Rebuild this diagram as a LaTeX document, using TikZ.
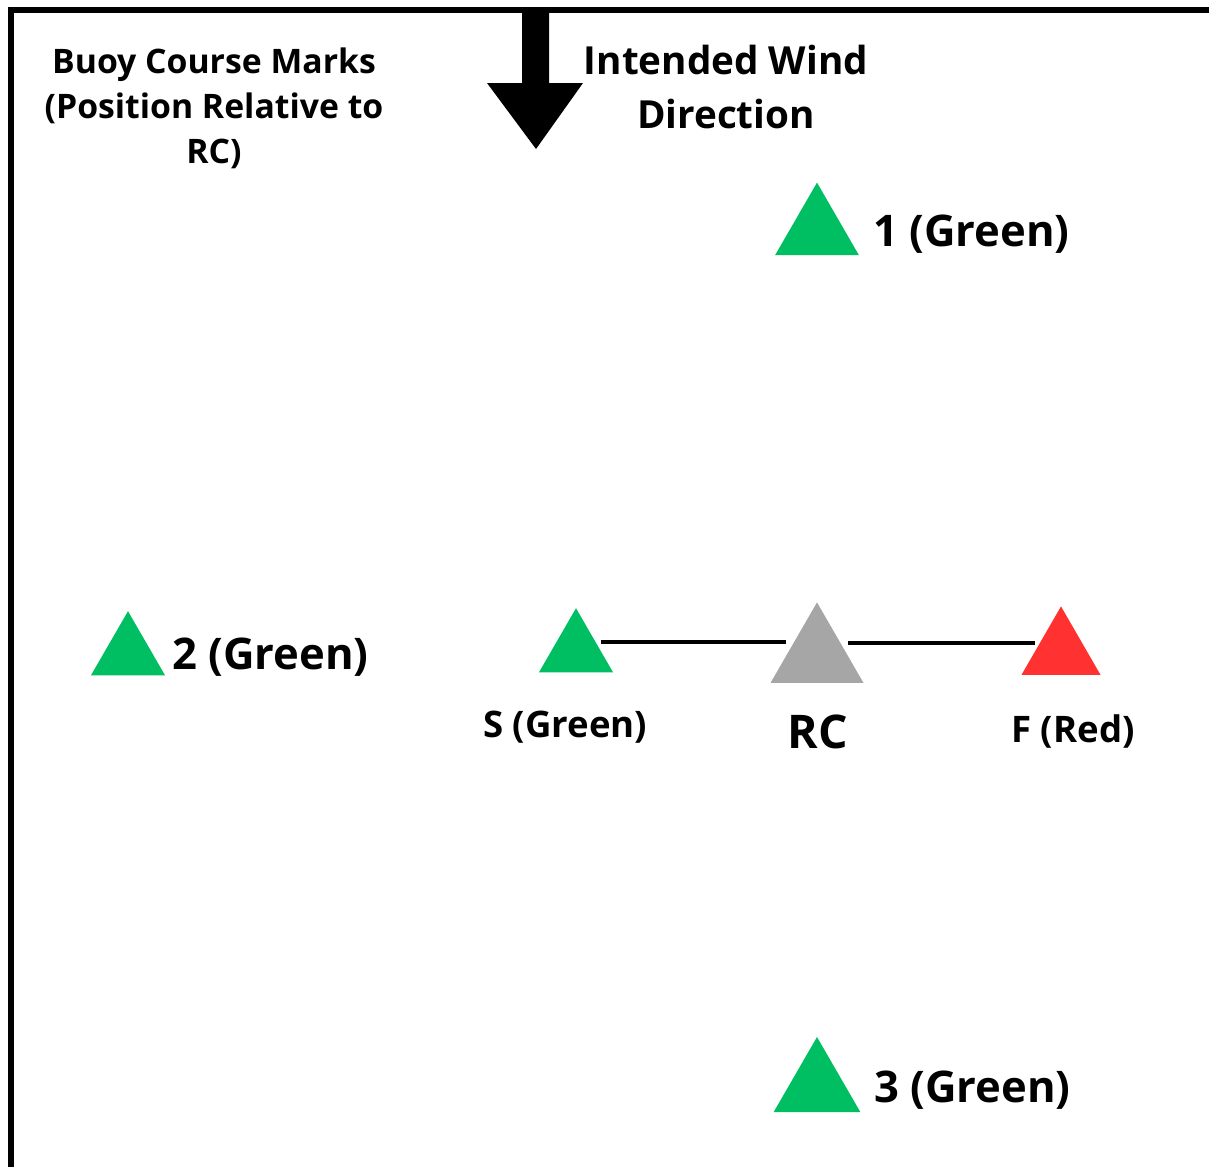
\documentclass[tikz,border=0pt]{standalone}
\usepackage{fontspec}
\setmainfont{Open Sans}
\usetikzlibrary{shapes.geometric}
\definecolor{buoygreen}{HTML}{00BF63}
\definecolor{buoyred}{HTML}{FF3131}
\definecolor{rcgray}{HTML}{A6A6A6}
\tikzset{
  buoy/.style={regular polygon, regular polygon sides=3, inner sep=0pt, outer sep=0pt},
  marklabel/.style={font=\bfseries\fontsize{31}{36}\selectfont, inner sep=0pt, anchor=west},
  linelabel/.style={font=\bfseries\fontsize{26}{30}\selectfont, inner sep=0pt},
  course/.style={line width=2.8pt}
}
\begin{document}
\begin{tikzpicture}[x=0.025cm, y=-0.025cm]
  \useasboundingbox (0,0) rectangle (1209,1166);
  \draw[line width=4.3pt] (11,1170) -- (11,10) -- (1215,10);

  \fill (522,8) -- (549,8) -- (549,83) -- (583,83) -- (536,149) -- (487,83) -- (522,83) -- cycle;

  \node[font=\bfseries\fontsize{24}{32}\selectfont, align=center] (title) at (214,108)
    {Buoy Course Marks\\(Position Relative to\\RC)};
  \node[font=\bfseries\fontsize{27.5}{39}\selectfont, align=center] (wind) at (726,87)
    {Intended Wind\\Direction};

  \foreach \name/\x/\y/\s/\lx/\num in {one/817/231/2.42/873/1, two/128/654/2.14/172/2, three/817/1087/2.5/874/3}
    {\node[buoy, fill=buoygreen, minimum size=\s cm] (\name) at (\x,\y) {};
     \node[marklabel] (\name-lbl) at (\lx,\y+3) {\num\ (Green)};}

  \node[buoy, fill=buoygreen, minimum size=2.14cm] (S) at (576,651) {};
  \node[buoy, fill=rcgray, minimum size=2.68cm] (RC) at (817,656) {};
  \node[buoy, fill=buoyred, minimum size=2.28cm] (F) at (1061,652) {};

  \draw[course] ([yshift=6.4pt]S.east) -- ([yshift=6.4pt]S.east -| RC.west);
  \draw[course] ([yshift=9.2pt]RC.east) -- ([yshift=9.2pt]RC.east -| F.west);

  \node[linelabel] (S-lbl) at (565,727) {S (Green)};
  \node[font=\bfseries\fontsize{33}{38}\selectfont, inner sep=0pt] (RC-lbl) at (818,732) {RC};
  \node[linelabel] (F-lbl) at (1073,731) {F (Red)};
\end{tikzpicture}
\end{document}
